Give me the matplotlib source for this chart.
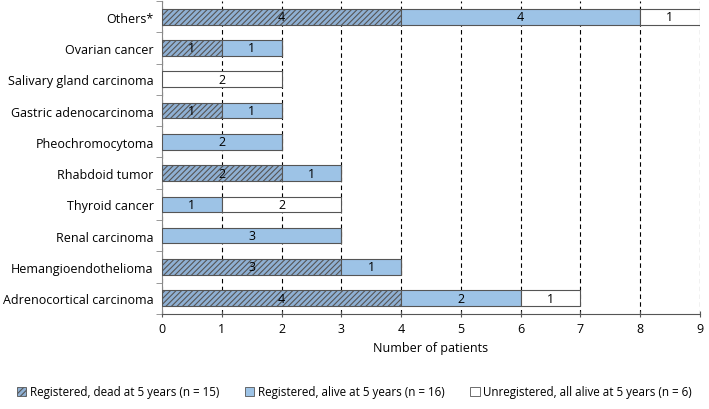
import matplotlib.pyplot as plt
from matplotlib.patches import Patch

plt.rcParams['font.family'] = ['Open Sans', 'DejaVu Sans']
plt.rcParams['hatch.color'] = '#2f3f55'
plt.rcParams['hatch.linewidth'] = 0.8

categories = ['Adrenocortical carcinoma', 'Hemangioendothelioma', 'Renal carcinoma',
              'Thyroid cancer', 'Rhabdoid tumor', 'Pheochromocytoma',
              'Gastric adenocarcinoma', 'Salivary gland carcinoma', 'Ovarian cancer',
              'Others*']
dead = [4, 3, 0, 0, 2, 0, 1, 0, 1, 4]
alive = [2, 1, 3, 1, 1, 2, 1, 0, 1, 4]
unreg = [1, 0, 0, 2, 0, 0, 0, 2, 0, 1]

legend_labels = ['Registered, dead at 5 years (n = 15)',
                 'Registered, alive at 5 years (n = 16)',
                 'Unregistered, all alive at 5 years (n = 6)']

fig = plt.figure(figsize=(7.09, 4.10), dpi=100)
ax = fig.add_axes([0.2285, 0.232, 0.7585, 0.763])

y = range(len(categories))
h = 0.5
edge = '#555555'
ax.barh(y, dead, height=h, color='#8fb0d3', hatch='//////', edgecolor=edge, linewidth=0.8, zorder=3)
ax.barh(y, alive, left=dead, height=h, color='#9dc3e6', edgecolor=edge, linewidth=0.8, zorder=3)
left2 = [d + a for d, a in zip(dead, alive)]
ax.barh(y, unreg, left=left2, height=h, color='white', edgecolor=edge, linewidth=0.8, zorder=3)

for i in y:
    start = 0
    for v in (dead[i], alive[i], unreg[i]):
        if v > 0:
            ax.text(start + v / 2, i, str(v), ha='center', va='center', fontsize=9, zorder=4)
        start += v

ax.set_xlim(0, 9)
ax.set_ylim(-0.5, 9.45)
ax.set_xticks(range(10))
ax.set_yticks(list(y))
ax.set_yticklabels(categories, fontsize=9)
ax.set_yticks([i + 0.5 for i in range(-1, 10)], minor=True)
ax.tick_params(axis='y', which='major', length=0, pad=6)
ax.tick_params(axis='y', which='minor', length=4, color='#888888')
ax.tick_params(axis='x', labelsize=9, direction='inout', length=5, color='#555555')
ax.grid(axis='x', color='black', linestyle=(0, (4, 3)), linewidth=0.8, zorder=0)
ax.spines['top'].set_visible(False)
ax.spines['right'].set_visible(False)
ax.spines['left'].set_color('#888888')
ax.spines['bottom'].set_color('#555555')
ax.set_xlabel('Number of patients', fontsize=9, labelpad=4)

handles = [Patch(facecolor='#8fb0d3', hatch='//////', edgecolor=edge, linewidth=0.6),
           Patch(facecolor='#9dc3e6', edgecolor=edge, linewidth=0.6),
           Patch(facecolor='white', edgecolor=edge, linewidth=0.6)]
fig.legend(handles, legend_labels, loc='lower center', bbox_to_anchor=(0.5, 0.0), ncol=3,
           frameon=False, fontsize=8.4, handlelength=0.8, handleheight=0.8,
           handletextpad=0.3, columnspacing=2.2)

fig.savefig('out.png', dpi=100)
